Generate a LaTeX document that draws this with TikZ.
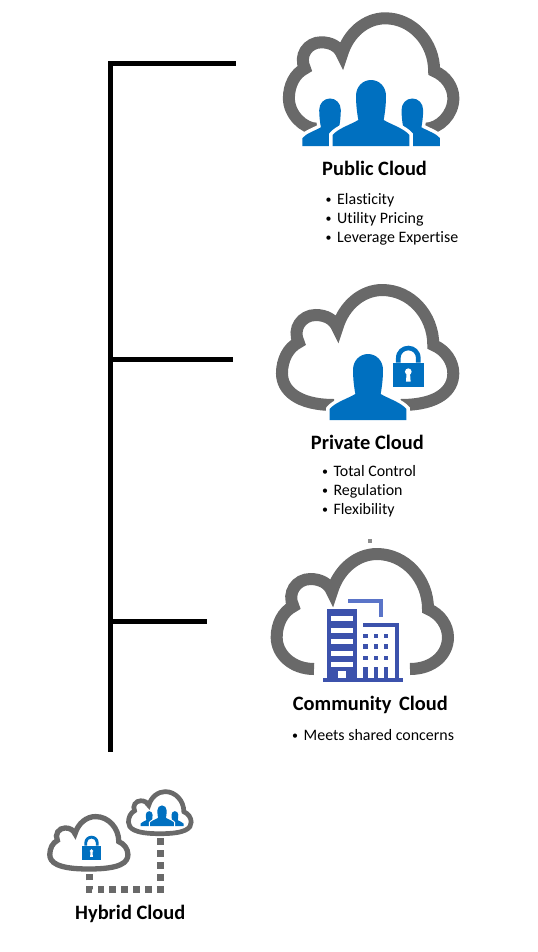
\documentclass[tikz,border=0pt]{standalone}
\usepackage{fontspec}
\setmainfont{Carlito}[Ligatures=NoCommon]
\definecolor{cloudgray}{HTML}{696969}
\definecolor{iconblue}{HTML}{0070C0}
\definecolor{towerblue}{HTML}{3C52AC}
\definecolor{roofblue}{HTML}{5A74C8}
\newcommand{\bitem}[1]{\makebox[11.5bp][l]{\raisebox{.4bp}{\fontsize{12}{12}\selectfont\textbullet}}#1}
\newcommand{\bustshape}[1]{
    \fill [iconblue,preaction={draw=white,line width=#1}] (-115,0) -- (-115,-33) .. controls (-100,-52) and (-62,-64) .. (-38,-78)
      .. controls (-42,-100) and (-45,-125) .. (-45,-150) .. controls (-45,-178) and (-25,-198) .. (0,-198)
      .. controls (25,-198) and (45,-178) .. (45,-150) .. controls (45,-125) and (42,-100) .. (38,-78)
      .. controls (62,-64) and (100,-52) .. (115,-33) -- (115,0) -- cycle;
}
\tikzset{
  pics/cloudicon/.style 2 args={code={
    \draw [cloudgray] (#1,0) .. controls (-210,0) and (-256,-45) .. (-256,-95) .. controls (-256,-135) and (-238,-172) .. (-206,-188)
      .. controls (-226,-228) and (-197,-270) .. (-155,-270) .. controls (-125,-270) and (-100,-257) .. (-90,-232)
      .. controls (-70,-300) and (-15,-345) .. (45,-345) .. controls (130,-345) and (198,-270) .. (198,-180)
      .. controls (235,-165) and (258,-130) .. (258,-95) .. controls (258,-45) and (215,0) .. (#2,0);
  }},
  pics/bust/.style={code={\bustshape{#1}}},
  pics/people/.style={code={
    \begin{scope}[shift={(-123,0)},scale=.72] \bustshape{#1} \end{scope}
    \begin{scope}[shift={(124,0)},scale=.72] \bustshape{#1} \end{scope}
    \bustshape{#1}
  }},
  pics/padlock/.style={code={
    \fill [iconblue] (-47,-36) rectangle (47,36);
    \fill [iconblue] (-37,-36) -- (-37,-50) .. controls (-37,-72) and (-20,-87) .. (0,-87) .. controls (20,-87) and (37,-72) .. (37,-50)
      -- (37,-36) -- (23,-36) -- (23,-50) .. controls (23,-64) and (12,-73) .. (0,-73) .. controls (-12,-73) and (-23,-64) .. (-23,-50) -- (-23,-36) -- cycle;
    \fill [white] (0,-9) circle [radius=10];
    \fill [white] (-5,-6) -- (5,-6) -- (7,21) -- (-7,21) -- cycle;
  }},
  trunkline/.style={line width=4.5bp},
  titletext/.style={anchor=base west,inner sep=0pt,font=\fontsize{20.5}{20.5}\selectfont\bfseries},
  itemtext/.style={anchor=base west,inner sep=0pt,font=\fontsize{16}{16}\selectfont},
  dotline/.style={cloudgray,line width=6.7bp,dash pattern=on 6.7bp off 5.2bp},
}
\begin{document}
\begin{tikzpicture}[x=1bp,y=-1bp]
\useasboundingbox (0,0) rectangle (538,952);
%% connectors
\coordinate (top) at (110.5,63.3);
\coordinate (bot) at (110.5,751.5);
\coordinate (pubend) at (235.7,63.3);
\coordinate (privstart) at (110.5,359.5);
\coordinate (privend) at (232.7,359.5);
\coordinate (commstart) at (110.5,621.5);
\coordinate (commend) at (206.5,621.5);
\draw [trunkline] (pubend) -- (top) -- (bot);
\draw [trunkline] (privstart) -- (privend);
\draw [trunkline] (commstart) -- (commend);
%% public
\pic [scale=.32,line width=12bp] at (370.8,128.7) {cloudicon={-170}{170}};
\pic [scale=.3333] at (371,146) {people=7bp};
\node (pubtitle) at (322,175.3) [titletext] {Public Cloud};
\node (pub1) at (325.5,204) [itemtext] {\bitem{Elasticity}};
\node (pub2) at (325.5,223.3) [itemtext] {\bitem{Utility Pricing}};
\node (pub3) at (325.5,242) [itemtext] {\bitem{Leverage Expertise}};
%% private
\pic [scale=.3333,line width=12bp] at (367.3,405) {cloudicon={-100}{100}};
\pic [scale=.3333] at (368,420) {bust=7bp};
\pic [scale=.3333] at (408.3,374.7) {padlock};
\node (privtitle) at (310.7,449.3) [titletext] {Private Cloud};
\node (priv1) at (321.8,476) [itemtext] {\bitem{Total Control}};
\node (priv2) at (321.8,495) [itemtext] {\bitem{Regulation}};
\node (priv3) at (321.8,514) [itemtext] {\bitem{Flexibility}};
%% community
\fill [gray!90] (368.3,539) rectangle (372,542.7);
\pic [scale=.3333,line width=12bp] at (362,669) {cloudicon={-144}{144}};
\fill [roofblue] (347.7,599.3) rectangle (383,602.7);
\fill [roofblue] (379.3,599.3) rectangle (383,617.3);
\fill [towerblue] (326.7,609) rectangle (357.3,678.3);
\fill [towerblue] (323.3,678.3) rectangle (402.7,681.7);
\foreach \y in {616,627.7,639,650.7,662.3} {
  \fill [white] (331.3,\y) rectangle (353.3,\y+5);
}
\fill [white] (337.7,671.3) rectangle (346,678.3);
\fill [towerblue] (362.7,623.3) rectangle (398.7,627.3);
\fill [towerblue] (395,623.3) rectangle (398.7,678.3);
\foreach \x in {363.3,374,384} {
  \foreach \y in {634,644.3,655.7} {
    \fill [towerblue] (\x,\y) rectangle (\x+4.2,\y+4.2);
  }
  \fill [towerblue] (\x,666.7) rectangle (\x+4.2,678.3);
}
\node (commtitle) at (292.7,710) [titletext] {Community\hspace{2.8bp} Cloud};
\node (comm1) at (292,740) [itemtext] {\bitem{Meets shared concerns}};
%% hybrid
\pic [scale=.152,line width=5.3bp] at (88.7,869) {cloudicon={0}{1}};
\pic [scale=.122,line width=4.7bp] at (159.7,833.7) {cloudicon={0}{1}};
\pic [scale=.104] at (162,826) {people=2.2bp};
\pic [scale=.195] at (91.5,852.7) {padlock};
\coordinate (hyb1) at (160.3,838.3);
\coordinate (hyb2) at (160.3,889.3);
\coordinate (hyb3) at (89.3,889.3);
\coordinate (hyb4) at (89.3,874.3);
\draw [dotline] (hyb1) -- (hyb2) -- (hyb3) -- (hyb4);
\node (hybtitle) at (75,919.5) [titletext] {Hybrid Cloud};
%
\end{tikzpicture}
\end{document}
